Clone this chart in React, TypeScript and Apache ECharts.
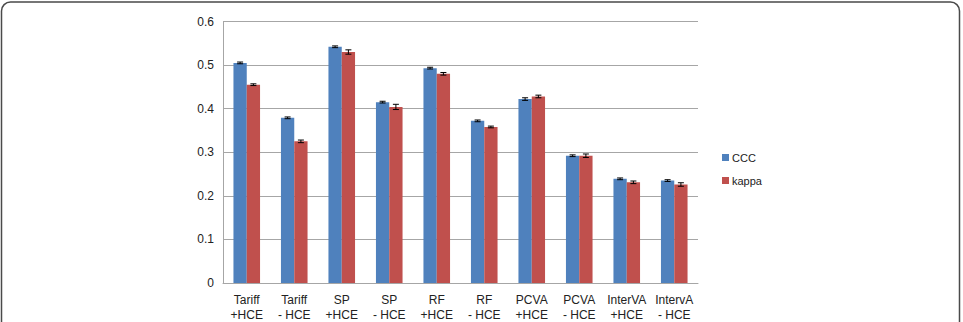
import React, { useEffect, useRef } from "react";
import * as echarts from "echarts";

const categories = [
  "Tariff\n+HCE",
  "Tariff\n- HCE",
  "SP\n+HCE",
  "SP\n- HCE",
  "RF\n+HCE",
  "RF\n- HCE",
  "PCVA\n+HCE",
  "PCVA\n- HCE",
  "InterVA\n+HCE",
  "IntervA\n- HCE",
];
const cccValues = [0.505, 0.379, 0.542, 0.415, 0.493, 0.372, 0.422, 0.292, 0.239, 0.235];
const cccErrors = [0.002, 0.002, 0.002, 0.002, 0.002, 0.002, 0.003, 0.002, 0.002, 0.002];
const kappaValues = [0.455, 0.325, 0.530, 0.404, 0.480, 0.358, 0.428, 0.292, 0.231, 0.226];
const kappaErrors = [0.002, 0.003, 0.005, 0.006, 0.003, 0.002, 0.003, 0.004, 0.003, 0.004];
const yTicks = { min: 0, max: 0.6, interval: 0.1 };

const BLUE = "#4F81BD";
const RED = "#C0504D";
const BAR_FRAC = 0.28;

function errorSeries(name: string, values: number[], errors: number[], side: number) {
  return {
    name: name + " error",
    type: "custom",
    z: 10,
    silent: true,
    encode: { x: 0, y: 1 },
    data: values.map((v, i) => [i, v, errors[i]]),
    renderItem: (params: any, api: any) => {
      const idx = api.value(0);
      const val = api.value(1);
      const err = api.value(2);
      const band = api.size([1, 0])[0];
      const off = side * band * BAR_FRAC * 0.5;
      const hi = api.coord([idx, val + err]);
      const lo = api.coord([idx, val - err]);
      const x = hi[0] + off;
      const cap = 3;
      const style = { stroke: "#000", lineWidth: 1 };
      return {
        type: "group",
        children: [
          { type: "line", shape: { x1: x, y1: hi[1], x2: x, y2: lo[1] }, style },
          { type: "line", shape: { x1: x - cap, y1: hi[1], x2: x + cap, y2: hi[1] }, style },
          { type: "line", shape: { x1: x - cap, y1: lo[1], x2: x + cap, y2: lo[1] }, style },
        ],
      };
    },
  };
}

export default function App() {
  const ref = useRef<HTMLDivElement>(null);
  useEffect(() => {
    if (!ref.current) return;
    const chart = echarts.init(ref.current, null, { renderer: "svg" });
    chart.setOption({
      animation: false,
      backgroundColor: "#fff",
      textStyle: { fontFamily: "Liberation Sans, Arial, sans-serif" },
      graphic: [
        {
          type: "rect",
          shape: { x: 1.5, y: 2, width: 958, height: 420, r: 9 },
          style: { fill: "none", stroke: "#4a4a4a", lineWidth: 1.5 },
          silent: true,
        },
      ],
      grid: { left: 223, right: 265, top: 21.5, bottom: 38, containLabel: false },
      legend: {
        data: ["CCC", "kappa"],
        orient: "vertical",
        left: 717,
        top: 147,
        itemWidth: 7,
        itemHeight: 7,
        itemGap: 12,
        icon: "rect",
        textStyle: { fontSize: 11, color: "#222", padding: [0, 0, 0, -2] },
      },
      xAxis: {
        type: "category",
        data: categories,
        axisLine: { lineStyle: { color: "#a6a6a6", width: 1 } },
        axisTick: { show: false },
        axisLabel: { fontSize: 12, lineHeight: 15, color: "#222", margin: 9, interval: 0 },
      },
      yAxis: {
        type: "value",
        min: yTicks.min,
        max: yTicks.max,
        interval: yTicks.interval,
        axisLine: { show: true, lineStyle: { color: "#a6a6a6", width: 1 } },
        axisTick: { show: false },
        splitLine: { lineStyle: { color: "#a6a6a6", width: 1 } },
        axisLabel: { fontSize: 12, color: "#222", margin: 9 },
      },
      series: [
        {
          name: "CCC",
          type: "bar",
          data: cccValues,
          barWidth: BAR_FRAC * 100 + "%",
          barGap: "0%",
          itemStyle: { color: BLUE },
        },
        {
          name: "kappa",
          type: "bar",
          data: kappaValues,
          barWidth: BAR_FRAC * 100 + "%",
          barGap: "0%",
          itemStyle: { color: RED },
        },
        errorSeries("CCC", cccValues, cccErrors, -1),
        errorSeries("kappa", kappaValues, kappaErrors, 1),
      ],
    });
    return () => chart.dispose();
  }, []);
  return (
    <div
      ref={ref}
      style={{ position: "fixed", left: 0, top: 0, width: 963, height: 322 }}
    />
  );
}
